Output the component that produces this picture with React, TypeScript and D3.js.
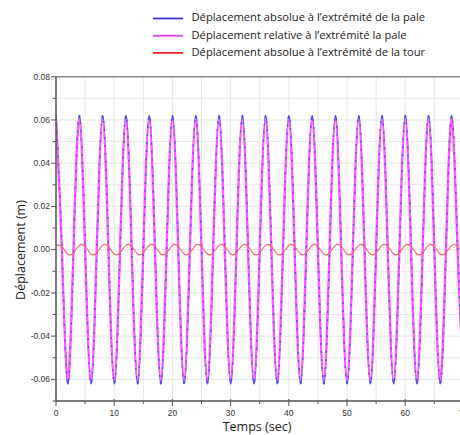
import React from "react";
import * as d3 from "d3";

// Sample times (s)
const timeSec = [
  0, 1, 2, 3, 4, 5, 6, 7, 8, 9, 10, 11, 12, 13, 14, 15, 16, 17, 18, 19,
  20, 21, 22, 23, 24, 25, 26, 27, 28, 29, 30, 31, 32, 33, 34, 35, 36, 37, 38, 39,
  40, 41, 42, 43, 44, 45, 46, 47, 48, 49, 50, 51, 52, 53, 54, 55, 56, 57, 58, 59,
  60, 61, 62, 63, 64, 65, 66, 67, 68, 69, 70,
];

// Déplacement absolue à l'extrémité de la pale (m)
const absPale = [
  0.062, 0.0015, -0.062, -0.0015, 0.062, 0.0015, -0.062, -0.0015,
  0.062, 0.0015, -0.062, -0.0015, 0.062, 0.0015, -0.062, -0.0015,
  0.062, 0.0015, -0.062, -0.0015, 0.062, 0.0015, -0.062, -0.0015,
  0.062, 0.0015, -0.062, -0.0015, 0.062, 0.0015, -0.062, -0.0015,
  0.062, 0.0015, -0.062, -0.0015, 0.062, 0.0015, -0.062, -0.0015,
  0.062, 0.0015, -0.062, -0.0015, 0.062, 0.0015, -0.062, -0.0015,
  0.062, 0.0015, -0.062, -0.0015, 0.062, 0.0015, -0.062, -0.0015,
  0.062, 0.0015, -0.062, -0.0015, 0.062, 0.0015, -0.062, -0.0015,
  0.062, 0.0015, -0.062, -0.0015, 0.062, 0.0015, -0.062,
];

// Déplacement relative à l'extrémité la pale (m)
const relPale = [
  0.06, 0.0, -0.06, 0.0, 0.06, 0.0, -0.06, 0.0,
  0.06, 0.0, -0.06, 0.0, 0.06, 0.0, -0.06, 0.0,
  0.06, 0.0, -0.06, 0.0, 0.06, 0.0, -0.06, 0.0,
  0.06, 0.0, -0.06, 0.0, 0.06, 0.0, -0.06, 0.0,
  0.06, 0.0, -0.06, 0.0, 0.06, 0.0, -0.06, 0.0,
  0.06, 0.0, -0.06, 0.0, 0.06, 0.0, -0.06, 0.0,
  0.06, 0.0, -0.06, 0.0, 0.06, 0.0, -0.06, 0.0,
  0.06, 0.0, -0.06, 0.0, 0.06, 0.0, -0.06, 0.0,
  0.06, 0.0, -0.06, 0.0, 0.06, 0.0, -0.06,
];

// Déplacement absolue à l'extrémité de la tour (m)
const absTour = [
  0.002, 0.0015, -0.002, -0.0015, 0.002, 0.0015, -0.002, -0.0015,
  0.002, 0.0015, -0.002, -0.0015, 0.002, 0.0015, -0.002, -0.0015,
  0.002, 0.0015, -0.002, -0.0015, 0.002, 0.0015, -0.002, -0.0015,
  0.002, 0.0015, -0.002, -0.0015, 0.002, 0.0015, -0.002, -0.0015,
  0.002, 0.0015, -0.002, -0.0015, 0.002, 0.0015, -0.002, -0.0015,
  0.002, 0.0015, -0.002, -0.0015, 0.002, 0.0015, -0.002, -0.0015,
  0.002, 0.0015, -0.002, -0.0015, 0.002, 0.0015, -0.002, -0.0015,
  0.002, 0.0015, -0.002, -0.0015, 0.002, 0.0015, -0.002, -0.0015,
  0.002, 0.0015, -0.002, -0.0015, 0.002, 0.0015, -0.002,
];

const xMajorTicks = [0, 10, 20, 30, 40, 50, 60, 70];
const xMinorTicks = [5, 15, 25, 35, 45, 55, 65];
const yMajorTicks = [0.08, 0.06, 0.04, 0.02, 0.0, -0.02, -0.04, -0.06];
const yMinorTicks = [0.07, 0.05, 0.03, 0.01, -0.01, -0.03, -0.05, -0.07];

const legendLabels = [
  "Déplacement absolue à l’extrémité de la pale",
  "Déplacement relative à l’extrémité la pale",
  "Déplacement absolue à l’extrémité de la tour",
];
const colors = ["#3a2fe0", "#f03cf0", "#f02a2a"];

const W = 460;
const H = 435;
const left = 56;
const top = 76.7;
const bottom = 401;

export default function App() {
  const x = d3.scaleLinear().domain([0, 70]).range([left, left + 70 * 5.82]);
  const y = d3.scaleLinear().domain([-0.07, 0.08]).range([bottom, top]);
  const right = x(70);

  const mk = (vals: number[]) =>
    d3
      .line<number>()
      .x((_, i) => x(timeSec[i]))
      .y((d) => y(d))
      .curve(d3.curveNatural)(vals) || "";

  const gridX = [...xMajorTicks, ...xMinorTicks];
  const gridY = [...yMajorTicks, ...yMinorTicks];
  const tickFont = "'Liberation Sans', Arial, sans-serif";
  const textFont = "'Open Sans', 'Noto Sans', sans-serif";

  return (
    <svg
      width={W}
      height={H}
      style={{ position: "absolute", left: 0, top: 0, background: "#fff" }}
    >
      <defs>
        <clipPath id="plotClip">
          <rect x={left} y={top} width={right - left} height={bottom - top} />
        </clipPath>
      </defs>
      {/* grid */}
      <g stroke="#e8e8e8" strokeWidth={1}>
        {gridX.map((v) => (
          <line key={"gx" + v} x1={x(v)} x2={x(v)} y1={top} y2={bottom} />
        ))}
        {gridY.map((v) => (
          <line key={"gy" + v} x1={left} x2={right} y1={y(v)} y2={y(v)} />
        ))}
      </g>
      {/* series */}
      <g clipPath="url(#plotClip)" fill="none">
        <path d={mk(absPale)} stroke="#5a4ff0" strokeWidth={1.3} />
        <path d={mk(relPale)} stroke="#ff5cff" strokeWidth={2.4} />
        <path
          d={mk(absPale)}
          stroke="#4a3ff0"
          strokeWidth={1.5}
          strokeDasharray="2 6"
          opacity={0.8}
        />
        <path d={mk(absTour)} stroke="#ff6060" strokeWidth={1.1} />
      </g>
      {/* frame */}
      <line x1={left} x2={right} y1={top} y2={top} stroke="#8a8a8a" strokeWidth={1.5} />
      <line x1={left} x2={left} y1={top} y2={bottom} stroke="#555" strokeWidth={1.5} />
      <line x1={left} x2={right} y1={bottom} y2={bottom} stroke="#555" strokeWidth={1.5} />
      {/* ticks */}
      <g stroke="#555" strokeWidth={1}>
        {yMajorTicks.map((v) => (
          <line key={"ym" + v} x1={left - 5} x2={left} y1={y(v)} y2={y(v)} />
        ))}
        {yMinorTicks.map((v) => (
          <line key={"yn" + v} x1={left - 3.5} x2={left} y1={y(v)} y2={y(v)} />
        ))}
        {xMajorTicks.map((v) => (
          <line key={"xm" + v} x1={x(v)} x2={x(v)} y1={bottom - 2} y2={bottom + 5} />
        ))}
        {xMinorTicks.map((v) => (
          <line key={"xn" + v} x1={x(v)} x2={x(v)} y1={bottom} y2={bottom + 3} />
        ))}
      </g>
      <g fontFamily={tickFont} fontSize={8.5} fill="#333">
        {yMajorTicks.map((v) => (
          <text key={"yl" + v} x={left - 6} y={y(v)} dy="0.33em" textAnchor="end">
            {d3.format(".2f")(v).replace("−", "-")}
          </text>
        ))}
        {xMajorTicks.map((v) => (
          <text key={"xl" + v} x={x(v)} y={bottom + 14.5} textAnchor="middle">
            {v}
          </text>
        ))}
      </g>
      {/* axis titles */}
      <text
        x={257}
        y={431}
        textAnchor="middle"
        fontFamily={textFont}
        fontSize={12.5}
        fill="#222"
      >
        Temps (sec)
      </text>
      <text
        transform={`translate(25,250) rotate(-90)`}
        textAnchor="middle"
        fontFamily={textFont}
        fontSize={12.5}
        fill="#222"
      >
        Déplacement (m)
      </text>
      {/* legend */}
      {legendLabels.map((lab, i) => {
        const ly = 18.5 + i * 17.2;
        return (
          <g key={lab}>
            <line x1={153} x2={183} y1={ly} y2={ly} stroke={colors[i]} strokeWidth={1.8} />
            <text
              x={191.5}
              y={ly + 2.8}
              fontFamily={textFont}
              fontSize={11.2}
              fill="#222"
            >
              {lab}
            </text>
          </g>
        );
      })}
    </svg>
  );
}
